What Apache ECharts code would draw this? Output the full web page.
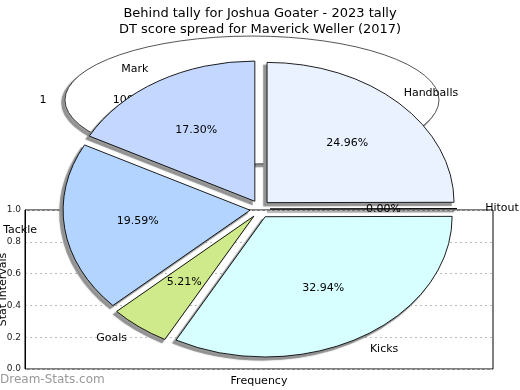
<!DOCTYPE html>
<html><head><meta charset="utf-8">
<script src="https://cdn.jsdelivr.net/npm/echarts@6/dist/echarts.min.js"></script>
<style>html,body{margin:0;padding:0;background:#fff}#c{width:520px;height:390px}</style>
</head><body><div id="c"></div>
<script>
// ---- data ----
const titleBack = 'Behind tally for Joshua Goater - 2023 tally';
const titleFront = 'DT score spread for Maverick Weller (2017)';
const categories = ['Handballs', 'Hitout', 'Kicks', 'Goals', 'Tackle', 'Mark'];
const percents = [24.96, 0.00, 32.94, 5.21, 19.59, 17.30];
const backCategories = ['1'];
const backPercents = [100];
const yTicks = [0.0, 0.2, 0.4, 0.6, 0.8, 1.0];
const xAxisName = 'Frequency';
const yAxisName = 'Stat Intervals';
const watermark = 'Dream-Stats.com';

// ---- styles / layout ----
const sliceColors = ['#EBF2FF', '#FFFFFF', '#D7FFFF', '#CFEA8B', '#B3D4FF', '#C4D8FF'];
const FONT = '"DejaVu Sans", sans-serif';
const fg = {cx: 260, cy: 209, r: 187, sy: 0.75, explode: 10, inR: 0.66, outX: 242, outY: 163};
const bg = {cx: 252, cy: 100, r: 187, sy: 0.342, inR: 0.66, outX: 209, outY: 0};
const SHADOW_DX = -3, SHADOW_DY = 3, SHADOW_COLOR = '#9a9a9a';

function angles(values, i, start) {
  const total = values.reduce((a, b) => a + b, 0);
  let before = 0;
  for (let k = 0; k < i; k++) before += values[k];
  const a0 = start + before / total * Math.PI * 2;
  const a1 = a0 + values[i] / total * Math.PI * 2;
  return [a0, a1, (a0 + a1) / 2];
}

function sectorPair(g, a0, a1, dx, dy, fill) {
  const shape = {cx: g.cx, cy: g.cy, r0: 0, r: g.r, startAngle: a0, endAngle: a1, clockwise: true};
  return [
    {type: 'sector', x: dx + SHADOW_DX, y: dy + SHADOW_DY, originX: g.cx, originY: g.cy, scaleY: g.sy,
      shape: shape, style: {fill: SHADOW_COLOR, stroke: SHADOW_COLOR, lineWidth: 1.5, strokeNoScale: true, shadowBlur: 1.5, shadowColor: 'rgba(0,0,0,0.3)'}},
    {type: 'sector', x: dx, y: dy, originX: g.cx, originY: g.cy, scaleY: g.sy,
      shape: shape, style: {fill: fill, stroke: '#000', lineWidth: 1, strokeNoScale: true}}
  ];
}

function fgSlice(params, api) {
  const i = params.dataIndex;
  const [a0, a1, mid] = angles(percents, i, -Math.PI / 2);
  return {type: 'group', children: sectorPair(fg, a0, a1,
    Math.cos(mid) * fg.explode, Math.sin(mid) * fg.explode * 0.9, sliceColors[i])};
}

function txt(x, y, s) {
  return {type: 'text', x: x, y: y,
    style: {text: s, align: 'center', verticalAlign: 'middle', fill: '#000', fontSize: 11, fontFamily: FONT}};
}

function fgLabel(params, api) {
  const i = params.dataIndex;
  const mid = angles(percents, i, -Math.PI / 2)[2];
  const c = Math.cos(mid), s = Math.sin(mid);
  return {type: 'group', children: [
    txt(fg.cx + c * fg.r * fg.inR, fg.cy + s * fg.r * fg.sy * fg.inR, api.value(1).toFixed(2) + '%'),
    txt(fg.cx + c * fg.outX, fg.cy + s * fg.outY, categories[i])
  ]};
}

function bgSlice(params, api) {
  const i = params.dataIndex;
  const [a0, a1, mid] = angles(backPercents, i, 0);
  const c = Math.cos(mid), s = Math.sin(mid);
  return {type: 'group', children: sectorPair(bg, a0, a1, 0, 0, '#fff').concat([
    txt(bg.cx + c * bg.r * bg.inR, bg.cy + s * bg.r * bg.sy * bg.inR, api.value(1).toFixed(0) + '%'),
    txt(bg.cx + c * bg.outX, bg.cy + s * bg.outY, backCategories[i])
  ])};
}

const chart = echarts.init(document.getElementById('c'), null, {renderer: 'canvas'});
chart.setOption({
  animation: false,
  backgroundColor: '#fff',
  title: [
    {text: titleBack, left: 'center', top: 2, textStyle: {fontSize: 13, fontWeight: 'normal', fontFamily: FONT, color: '#000'}},
    {text: titleFront, left: 'center', top: 18, textStyle: {fontSize: 13, fontWeight: 'normal', fontFamily: FONT, color: '#000'}}
  ],
  grid: {left: 25, right: 27, top: 210, bottom: 21, show: true, borderColor: '#000', borderWidth: 1,
    backgroundColor: 'transparent', containLabel: false, outerBoundsMode: 'none', z: 0},
  xAxis: {type: 'value', min: 0, max: 1, axisLabel: {show: false}, axisTick: {show: false}, splitLine: {show: false},
    axisLine: {show: false}, name: xAxisName, nameLocation: 'middle', nameGap: 7, nameMoveOverlap: false,
    nameTextStyle: {fontSize: 11, fontFamily: FONT, color: '#000'}},
  yAxis: {type: 'value', min: yTicks[0], max: yTicks[yTicks.length - 1], interval: yTicks[1] - yTicks[0],
    axisLabel: {formatter: v => v.toFixed(1), fontSize: 9, fontFamily: FONT, color: '#222', margin: 4},
    axisLine: {show: true, lineStyle: {color: '#000'}}, axisTick: {show: false},
    splitLine: {show: true, lineStyle: {color: '#bbb', type: [2, 3], width: 1}},
    name: yAxisName, nameLocation: 'middle', nameGap: 16, nameRotate: 90, nameMoveOverlap: false,
    nameTextStyle: {fontSize: 11, fontFamily: FONT, color: '#000'}},
  graphic: [{type: 'text', left: 0, top: 374, z: 10,
    style: {text: watermark, fill: '#999', fontSize: 12, fontFamily: FONT}}],
  series: [
    {type: 'custom', coordinateSystem: 'none', z: 1, renderItem: bgSlice, data: backPercents.map((v, i) => [i, v])},
    {type: 'line', data: [], z: 1},
    {type: 'custom', coordinateSystem: 'none', z: 3, renderItem: fgSlice, data: percents.map((v, i) => [i, v])},
    {type: 'custom', coordinateSystem: 'none', z: 4, renderItem: fgLabel, data: percents.map((v, i) => [i, v])}
  ]
});
</script></body></html>
